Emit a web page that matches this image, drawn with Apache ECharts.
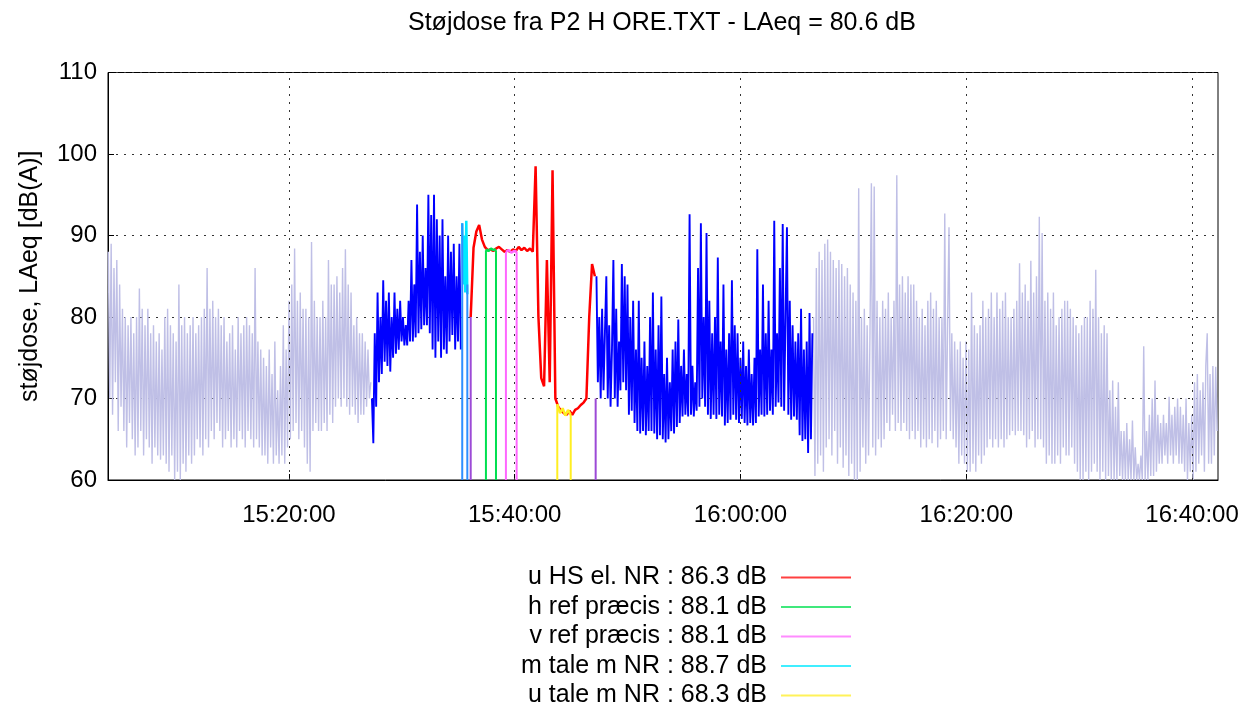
<!DOCTYPE html>
<html><head><meta charset="utf-8">
<script src="https://cdn.jsdelivr.net/npm/echarts@6/dist/echarts.min.js"></script>
<style>html,body{margin:0;padding:0;background:#fff}#c{width:1253px;height:717px}</style>
</head><body><div id="c"></div>
<script>
// ---------- texts ----------
const chartTitle = 'Støjdose fra P2 H ORE.TXT - LAeq = 80.6 dB';
const yAxisName = 'støjdose, LAeq [dB(A)]';
const legendNames = ['u HS el. NR : 86.3 dB', 'h ref præcis : 88.1 dB', 'v ref præcis : 88.1 dB', 'm tale m NR : 88.7 dB', 'u tale m NR : 68.3 dB'];

// ---------- axes (x in minutes after 15:00) ----------
const xTickMinutes = [20, 40, 60, 80, 100];
const xMin = 3.97, xMax = 102.3;
const yMin = 60, yMax = 110, yStep = 10;
const denseStep = 0.125; // minutes between samples (grey / blue)
const redStep = 0.25;    // minutes between samples (red)

// ---------- sampled LAeq data ----------
const greyLeftStart = 4.0;
const greyLeft = [
 88,70,89,68,86,72,87,66,84,69,
 81,66,80,64,79,67,80,65,78,63,
 80,64,83.5,66,81,63,79,65,81,64,
 78,62,79,64,77,63,78,62.5,76,63,
 80,62,81,61,79,63,78,60,77,61,
 84,60,79,62,80,61,78,63,79,62,
 80,63,78,65,79,64,80,63,81,65,
 86,64,81,66,82,65,80,67,81,66,
 79,64,80,65,77,66,78,64,79,65,
 76,64,80,66,78,65,79,64,80,66,
 79,65,78,64,86,65,77,64,76,63,
 75,63,74,62,76,64,73,62,77,63,
 71,62,74,63,79,62,76,64,82,65,
 84,66,88.4,67,82,65,83,66,81,64,
 81,62,80,61,89.2,66,82,67,80,66,
 80,66,82,67,80,66,87,68,84,67,
 84,69,85,70,83,69,86,70,88.3,69,
 84,68,83,69,79,68,80,67,78,68,
 78,68,77,69,76,70,72];

const blueAStart = 27.35;
const blueA = [
 70,64.5,78,69,83,72,80,73,84.5,74.5,
 82,74,83,73.3,80,75,83,75.5,81,76,
 82,77,80,76.5,79,76.5,82,77,87,77,
 84,77.5,93.8,78,88,78.5,90,79,86,79,
 95,78,92.5,76,95,75,92,77,90,75,
 92,76,85,75.5,90,77,88,77.8,89,76,
 85,77,89,76];

const redStart = 36.10;
const red = [80,88.5,90.5,91.3,89.5,88.6,88.2,88.3,88.1,88.4,88.6,88.3,88.0,88.2,88.0,88.3,88.1,88.6,88.2,88.5,88.1,88.4,88.0,98.5,80,72.5,71.5,87,72,98,70,69,68.5,68.2,68.0,68.5,68.0,68.6,68.8,69.2,69.5,70,80,86.5,85];

const blueBStart = 47.24;
const blueB = [
 85,72,80,70,81,71,78,85,70,79,
 69,76,87,70,81,69,77,71,86.5,72,
 85,71,84,68,80,68.5,82,67,76,66,
 82,65.7,75,66,77,65.5,74,66,80,66,
 83,65.7,76,65,79,65.5,82.5,65,73,64.6,
 75,65,72,66,76,65.7,77,66.5,79.7,67,
 74,67.8,76,68,73,67.8,92.6,68,74,67.8,
 72,68.5,86,69,91.5,70,80,69,90.3,68,
 82,67.5,78,68,80,67.5,87.3,68,77,67.8,
 84,66.7,76,67,78,67.4,84.5,68,79,67.4,
 78,67,75,67.5,77,67,74,66.7,76,67,
 73,66.7,75,67,88.3,67.8,76,68,84,67.8,
 78,68,82,68.5,76,68,91.8,69,78,69.5,
 86,69,91.4,68.5,80,91,68,82,67.4,79,
 67.8,77,67.4,78,65.5,81,64.8,76,65,77,
 63.3,80.5,65,78];

const greyRightStart = 66.47;
const greyRight = [
 80,60.5,86,62,88,63,87,61,89,64,
 89.5,65,88,63,87,66,86,62,87,64,
 86.5,61.5,85,63,86,60.5,84,62,83,60,
 82,60,95.8,61,80,64,81,62,79,63,
 78,96.4,64,96,63,82,65,80,64,82,
 65,81,67,83,66,80,68,82,66,97.4,
 67,84,66,85,67,83,66,85,65,84,
 66,84,65,82,66,80,64,81,65,79,
 64,82,65,83,64.5,81,66,82,64,80,
 65,80,66,92.7,65,79,91,66,78,65,
 77,64,76,62,77,63,75,62,77,61,
 76,61,83,62,79,61,78,63,79,62,
 82,63,80,64,81,65,83,64,80,65,
 83,64,81,65,82,64,83,65,80,65.5,
 80,66,81,65.5,82,66,86.6,66,83,65.5,
 84,64,82,65,86.9,66,83,64,85,65,
 92.3,65,90.3,64,82,62,83,63,81,62,
 83,62,79,63,80,62,81,64,82,63,
 82,63,81,64,80,62,79,61,78,60,
 79,60,80,61,80,60,82,61,81,62,
 85.8,61,80,60,78,61,79,60,78,60.5,
 71,60,72.2,60,69,60,72,60.5,66,60,
 66,60,67,60,65,60,67.3,60,64,60,
 62,60,63,60,76.4,60,66,60,68,60.5,
 70,60.5,72.2,61,68,62,67,62,68,63,
 67,62,70.2,63,68,62,69,63,70,62,
 69,62,68,61,70,60,67,61,68,60,
 72,61,73,62,71,63,72,61,74,78,
 62,73,62,74,63,73.9,66];

// ---------- marked periods ----------
const greenStart = 37.45, greenEnd = 38.34;
const greenVals = [88.3, 88.1, 88.4, 88.2, 88.3];
const magentaStart = 39.22, magentaEnd = 40.17;
const magentaVals = [88.0, 88.2, 87.9, 88.1, 88.0];
const cyanStart = 35.35, cyanEnd = 35.80;
const cyanVals = [91.5, 84, 90, 83, 91.8, 82.8];
const yellowStart = 43.77, yellowEnd = 44.96;
const yellowVals = [69.3, 68.2, 68.8, 67.9, 68.6, 68.0];

// period boundary lines (time, top value)
const dropTimes = [35.35, 35.80, 36.10, 37.45, 38.34, 39.22, 40.17, 43.77, 44.96, 47.17];
const dropTops  = [91.5, 84, 80, 88.2, 88.2, 88.0, 88.0, 69.3, 68.0, 70];

// ---------- styles ----------
const FONT = '"Liberation Sans", Arial, sans-serif';
const C = { grey:'#bfbfe6', blue:'#0000ff', red:'#ff0000', green:'#00e050', magenta:'#ff66ff', cyan:'#00e8ff', yellow:'#ffee22', bluish:'#2e8fff', purple:'#9c4ad6' };
const dropColors = [C.bluish, C.bluish, C.purple, C.green, C.green, C.magenta, C.magenta, C.yellow, C.yellow, C.purple];

const pad2 = n => String(n).padStart(2, '0');
function minuteLabel(m) { const h = 15 + Math.floor(m / 60); const mm = Math.round(m % 60); return h + ':' + pad2(mm) + ':00'; }
function sampled(start, step, vals) { return vals.map((v, i) => [start + i * step, v]); }
function spread(start, end, vals) { const n = vals.length; return vals.map((v, i) => [start + (end - start) * i / (n - 1), v]); }

const base = { type: 'line', symbol: 'none', silent: true, animation: false, clip: true };
function ln(name, data, color, width, z) {
  return Object.assign({}, base, { name, data, z, itemStyle: { color }, lineStyle: { color, width } });
}

const gridDots = { color: '#333', type: [2, 6], width: 1 };

const series = [
  Object.assign(ln('greyL', sampled(greyLeftStart, denseStep, greyLeft), C.grey, 1.4, 2), {
    markLine: { silent: true, symbol: 'none', animation: false, label: { show: false }, lineStyle: gridDots,
      data: xTickMinutes.map(m => ({ xAxis: m })) }
  }),
  ln('greyR', sampled(greyRightStart, denseStep, greyRight), C.grey, 1.4, 2),
  ln('blueA', sampled(blueAStart, denseStep, blueA), C.blue, 1.9, 3),
  ln('blueB', sampled(blueBStart, denseStep, blueB), C.blue, 1.9, 3),
  ln(legendNames[0], sampled(redStart, redStep, red), C.red, 2.5, 4),
  ln(legendNames[1], spread(greenStart, greenEnd, greenVals), C.green, 2.5, 5),
  ln(legendNames[2], spread(magentaStart, magentaEnd, magentaVals), C.magenta, 2.5, 5),
  ln(legendNames[3], spread(cyanStart, cyanEnd, cyanVals), C.cyan, 2.5, 5),
  ln(legendNames[4], spread(yellowStart, yellowEnd, yellowVals), C.yellow, 2.5, 5)
];
dropTimes.forEach((t, i) => series.push(ln('drop' + i, [[t, yMin], [t, dropTops[i]]], dropColors[i], 2, 6)));

const chart = echarts.init(document.getElementById('c'), null, { renderer: 'canvas' });
chart.setOption({
  backgroundColor: '#fff',
  animation: false,
  title: { text: chartTitle, left: 408, top: 11, padding: 0,
    textStyle: { fontSize: 25, fontWeight: 'normal', fontFamily: FONT, color: '#000' } },
  grid: { left: 108, right: 35, top: 72.5, bottom: 237, show: true, borderColor: '#000', borderWidth: 1 },
  legend: {
    data: legendNames, orient: 'vertical', align: 'right', right: 401, top: 565, padding: 0,
    itemWidth: 70, itemHeight: 14, itemGap: 4.5, selectedMode: false,
    textStyle: { fontSize: 25, fontFamily: FONT, color: '#000', padding: [0, 9, 0, 0] },
    itemStyle: { opacity: 0 },
    lineStyle: { width: 2, opacity: 0.75 }
  },
  xAxis: {
    type: 'value', min: xMin, max: xMax,
    axisLine: { show: true, lineStyle: { color: '#000' } },
    splitLine: { show: false },
    axisTick: { show: true, inside: true, length: 6, customValues: xTickMinutes, lineStyle: { color: '#000' } },
    axisLabel: { customValues: xTickMinutes, formatter: minuteLabel, fontSize: 24, color: '#000', margin: 23, fontFamily: FONT }
  },
  yAxis: {
    type: 'value', min: yMin, max: yMax, interval: yStep,
    name: yAxisName, nameLocation: 'middle', nameGap: 65,
    nameTextStyle: { fontSize: 25, color: '#000', fontFamily: FONT },
    axisLine: { show: true, lineStyle: { color: '#000' } },
    axisTick: { show: true, inside: true, length: 6, lineStyle: { color: '#000' } },
    splitLine: { show: true, lineStyle: gridDots },
    axisLabel: { fontSize: 24, color: '#000', margin: 11, fontFamily: FONT }
  },
  series
});
</script>
</body></html>
